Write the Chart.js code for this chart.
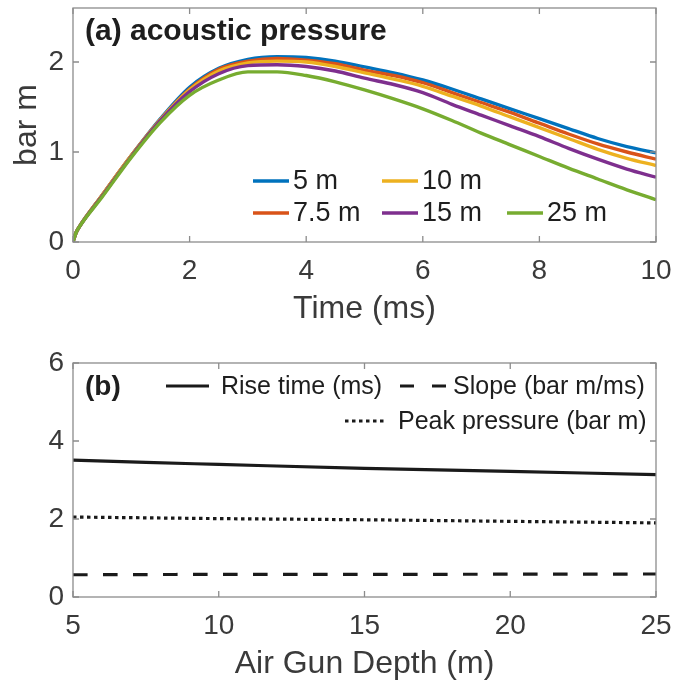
<!DOCTYPE html>
<html>
<head>
<meta charset="utf-8">
<script src="https://cdn.jsdelivr.net/npm/chart.js@4.4.1/dist/chart.umd.min.js"></script>
<style>
  html, body { margin: 0; padding: 0; background: #fff; }
  #wrap { position: relative; width: 673px; height: 683px; }
  .panel { position: absolute; left: 0; }
  #top { top: 0; }
  #bottom { top: 340px; }
</style>
</head>
<body>
<div id="wrap">
  <div class="panel" id="top"><canvas id="pressureChart" width="673" height="340"></canvas></div>
  <div class="panel" id="bottom"><canvas id="depthChart" width="673" height="343"></canvas></div>
</div>
<script>
// (a) far-field acoustic pressure vs time, one curve per gun depth
const TIME_MS = [0, 0.05, 0.1, 0.5, 1, 1.5, 2, 2.5, 3, 3.5, 4, 4.5, 5, 5.5, 6, 6.5, 7, 7.5, 8, 8.5, 9, 9.5, 10];
const DEPTH_LABELS = ['5 m', '7.5 m', '10 m', '15 m', '25 m'];
const P_5M   = [0, 0.10, 0.16, 0.52, 0.96, 1.37, 1.72, 1.93, 2.03, 2.06, 2.05, 2.01, 1.945, 1.88, 1.80, 1.70, 1.59, 1.48, 1.37, 1.26, 1.15, 1.06, 0.99];
const P_7_5M = [0, 0.10, 0.16, 0.52, 0.96, 1.36, 1.70, 1.92, 2.01, 2.04, 2.02, 1.98, 1.91, 1.85, 1.77, 1.66, 1.55, 1.44, 1.32, 1.20, 1.09, 1.00, 0.92];
const P_10M  = [0, 0.10, 0.16, 0.52, 0.96, 1.36, 1.69, 1.90, 1.99, 2.01, 2.00, 1.95, 1.88, 1.81, 1.73, 1.62, 1.51, 1.39, 1.27, 1.15, 1.03, 0.93, 0.85];
const P_15M  = [0, 0.10, 0.16, 0.51, 0.95, 1.35, 1.67, 1.87, 1.96, 1.97, 1.95, 1.90, 1.82, 1.75, 1.66, 1.53, 1.41, 1.29, 1.17, 1.04, 0.92, 0.81, 0.72];
const P_25M  = [0, 0.10, 0.16, 0.50, 0.94, 1.33, 1.63, 1.80, 1.89, 1.89, 1.85, 1.78, 1.69, 1.59, 1.48, 1.35, 1.21, 1.08, 0.95, 0.82, 0.70, 0.58, 0.47];
const DEPTH_COLORS = ['#0072BD', '#D95319', '#EDB120', '#7E2F8E', '#77AC30'];

// (b) pulse properties vs gun depth
const DEPTH_M = [5, 7.5, 10, 15, 20, 25];
const RISE_TIME = [3.51, 3.45, 3.40, 3.30, 3.22, 3.14];
const SLOPE = [0.57, 0.575, 0.58, 0.58, 0.585, 0.59];
const PEAK_PRESSURE = [2.05, 2.03, 2.01, 1.98, 1.94, 1.90];

const FONT = 'Liberation Sans, Arial, Helvetica, sans-serif';
const AXIS_COLOR = '#8c8c8c';
const TEXT_COLOR = '#3a3a3a';
const TICK_LEN = 6;

Chart.defaults.font.family = FONT;
Chart.defaults.color = TEXT_COLOR;

const toPoints = (xs, ys) => xs.map((x, i) => ({ x: x, y: ys[i] }));

// keep the plot box fixed: no extra room for overhanging tick labels
const fixAxis = (size) => (s) => {
  if (s.isHorizontal()) s.height = size; else s.width = size;
  s.paddingLeft = s.paddingRight = s.paddingTop = s.paddingBottom = 0;
};

// MATLAB-style box with inward ticks on all four sides
const boxAndTicks = {
  id: 'boxAndTicks',
  afterDatasetsDraw(chart) {
    const { ctx, chartArea: a, scales: { x, y } } = chart;
    ctx.save();
    ctx.strokeStyle = AXIS_COLOR;
    ctx.lineWidth = 1.3;
    ctx.strokeRect(a.left, a.top, a.right - a.left, a.bottom - a.top);
    ctx.beginPath();
    x.ticks.forEach(t => {
      const px = x.getPixelForValue(t.value);
      ctx.moveTo(px, a.bottom); ctx.lineTo(px, a.bottom - TICK_LEN);
      ctx.moveTo(px, a.top); ctx.lineTo(px, a.top + TICK_LEN);
    });
    y.ticks.forEach(t => {
      const py = y.getPixelForValue(t.value);
      ctx.moveTo(a.left, py); ctx.lineTo(a.left + TICK_LEN, py);
      ctx.moveTo(a.right, py); ctx.lineTo(a.right - TICK_LEN, py);
    });
    ctx.stroke();
    ctx.restore();
  }
};

const drawSample = (ctx, x0, x1, y, color, width, dash) => {
  ctx.save();
  ctx.strokeStyle = color;
  ctx.lineWidth = width;
  ctx.setLineDash(dash || []);
  ctx.beginPath();
  ctx.moveTo(x0, y);
  ctx.lineTo(x1, y);
  ctx.stroke();
  ctx.restore();
};

// legend slots for (a): [column, row]
const LEGEND_A_COLS = [253, 382, 507];
const LEGEND_A_ROWS = [181, 213];
const LEGEND_A_SLOTS = [[0, 0], [0, 1], [1, 0], [1, 1], [2, 1]];

const panelA = {
  id: 'panelA',
  afterDraw(chart) {
    const ctx = chart.ctx;
    ctx.save();
    ctx.fillStyle = '#1e1e1e';
    ctx.font = `bold 30px ${FONT}`;
    ctx.textBaseline = 'alphabetic';
    ctx.fillText('(a) acoustic pressure', 85, 40);

    ctx.font = `27px ${FONT}`;
    ctx.textBaseline = 'middle';
    chart.data.datasets.forEach((ds, i) => {
      const [c, r] = LEGEND_A_SLOTS[i];
      const x = LEGEND_A_COLS[c];
      const y = LEGEND_A_ROWS[r];
      drawSample(ctx, x, x + 36, y, ds.borderColor, 3.4);
      ctx.fillStyle = '#1e1e1e';
      ctx.fillText(ds.label, x + 40, y + 1);
    });
    ctx.restore();
  }
};

const panelB = {
  id: 'panelB',
  afterDraw(chart) {
    const ctx = chart.ctx;
    const ds = chart.data.datasets;
    const row1 = 46, row2 = 81;
    ctx.save();
    ctx.fillStyle = '#1e1e1e';
    ctx.textBaseline = 'middle';
    ctx.font = `bold 28px ${FONT}`;
    ctx.fillText('(b)', 85, row1 + 1);

    ctx.font = `25px ${FONT}`;
    drawSample(ctx, 166, 209, row1, ds[0].borderColor, 3.2, ds[0].borderDash);
    ctx.fillText(ds[0].label, 221, row1 + 1);
    drawSample(ctx, 400, 446, row1, ds[1].borderColor, 3.2, [14, 18]);
    ctx.fillText(ds[1].label, 453, row1 + 1);
    drawSample(ctx, 345, 385, row2, ds[2].borderColor, 3.2, ds[2].borderDash);
    ctx.fillText(ds[2].label, 398, row2 + 1);
    ctx.restore();
  }
};

const tickFont = { size: 28 };
const titleFont = { size: 32 };

const pressureSeries = [P_5M, P_7_5M, P_10M, P_15M, P_25M];

new Chart(document.getElementById('pressureChart'), {
  type: 'line',
  data: {
    datasets: pressureSeries.map((vals, i) => ({
      label: DEPTH_LABELS[i],
      data: toPoints(TIME_MS, vals),
      borderColor: DEPTH_COLORS[i],
      borderWidth: 3.4,
      pointRadius: 0,
      cubicInterpolationMode: 'monotone',
      order: pressureSeries.length - i
    }))
  },
  options: {
    responsive: false,
    animation: false,
    layout: { padding: { top: 8, right: 17, left: 0, bottom: 0 } },
    plugins: { legend: { display: false }, tooltip: { enabled: false } },
    scales: {
      x: {
        type: 'linear',
        min: 0, max: 10,
        grid: { display: false, drawTicks: false },
        border: { display: false },
        ticks: { stepSize: 2, font: tickFont, padding: 12, color: TEXT_COLOR },
        title: { display: true, text: 'Time (ms)', font: titleFont, color: TEXT_COLOR, padding: { top: 0, bottom: 12 } },
        afterFit: fixAxis(98)
      },
      y: {
        min: 0, max: 2.6,
        grid: { display: false, drawTicks: false },
        border: { display: false },
        ticks: { stepSize: 1, includeBounds: false, font: tickFont, padding: 9, color: TEXT_COLOR },
        title: { display: true, text: 'bar m', font: titleFont, color: TEXT_COLOR, padding: { top: 8, bottom: 0 } },
        afterFit: fixAxis(73)
      }
    }
  },
  plugins: [boxAndTicks, panelA]
});

new Chart(document.getElementById('depthChart'), {
  type: 'line',
  data: {
    datasets: [
      { label: 'Rise time (ms)', data: toPoints(DEPTH_M, RISE_TIME), borderColor: '#1a1a1a', borderDash: [] },
      { label: 'Slope (bar m/ms)', data: toPoints(DEPTH_M, SLOPE), borderColor: '#1a1a1a', borderDash: [14.6, 15.4] },
      { label: 'Peak pressure (bar m)', data: toPoints(DEPTH_M, PEAK_PRESSURE), borderColor: '#1a1a1a', borderDash: [3.5, 3.5] }
    ].map(ds => Object.assign(ds, { borderWidth: 3.2, pointRadius: 0, borderCapStyle: 'butt', cubicInterpolationMode: 'monotone' }))
  },
  options: {
    responsive: false,
    animation: false,
    layout: { padding: { top: 23, right: 17, left: 0, bottom: 0 } },
    plugins: { legend: { display: false }, tooltip: { enabled: false } },
    scales: {
      x: {
        type: 'linear',
        min: 5, max: 25,
        grid: { display: false, drawTicks: false },
        border: { display: false },
        ticks: { stepSize: 5, font: tickFont, padding: 12, color: TEXT_COLOR },
        title: { display: true, text: 'Air Gun Depth (m)', font: titleFont, color: TEXT_COLOR, padding: { top: 0, bottom: 0 } },
        afterFit: fixAxis(86)
      },
      y: {
        min: 0, max: 6,
        grid: { display: false, drawTicks: false },
        border: { display: false },
        ticks: { stepSize: 2, font: tickFont, padding: 9, color: TEXT_COLOR },
        afterFit: fixAxis(73)
      }
    }
  },
  plugins: [boxAndTicks, panelB]
});
</script>
</body>
</html>
